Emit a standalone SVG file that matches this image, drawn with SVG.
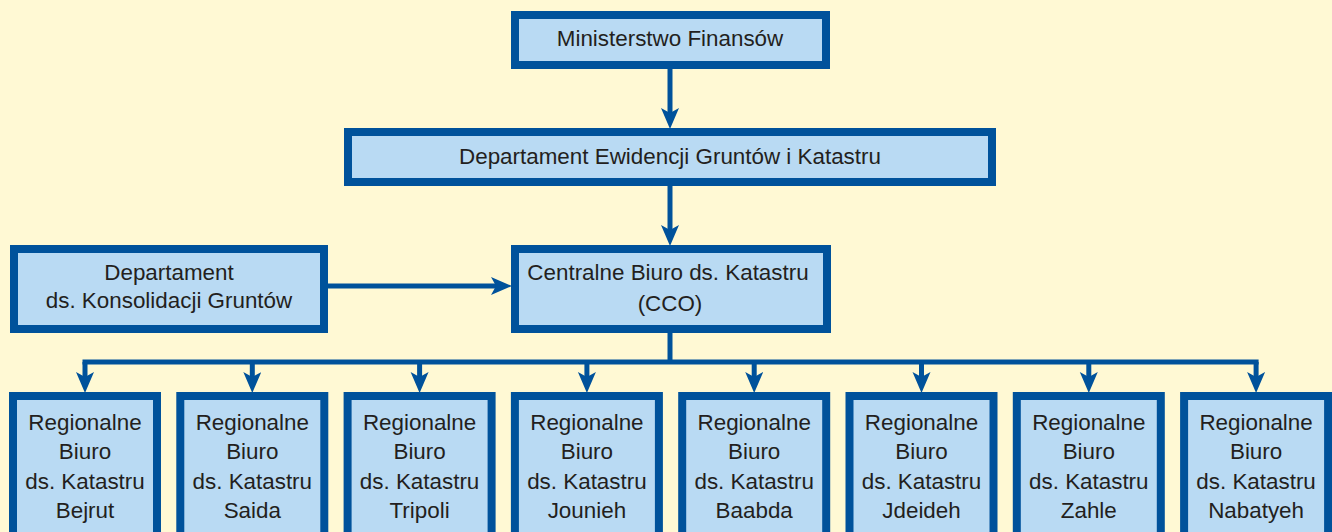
<svg xmlns="http://www.w3.org/2000/svg" width="1332" height="532" viewBox="0 0 1332 532">
<defs>
<style>
.box{fill:#b9daf3;stroke:#00529b;stroke-width:8}
.t{font-family:"Liberation Sans",Arial,sans-serif;font-size:22.4px;fill:#231f20;text-anchor:middle}
.c{fill:none;stroke:#00529b;stroke-width:5}
</style>
<marker id="ah" markerUnits="userSpaceOnUse" markerWidth="22" markerHeight="20" viewBox="0 0 22 20" refX="8" refY="9" orient="auto">
<path d="M0,0 L21,9 L0,18 L5,9 Z" fill="#00529b"/>
</marker>
</defs>
<rect width="1332" height="532" fill="#fff9d4"/>
<g id="connectors">
<path class="c" d="M670,69 V116" marker-end="url(#ah)"/>
<path class="c" d="M670,186 V233" marker-end="url(#ah)"/>
<path class="c" d="M328,286 H499" marker-end="url(#ah)"/>
<path class="c" d="M670,333 V362"/>
<path class="c" d="M82.5,362 H1258.6"/>
<path class="c" d="M85,362 V380" marker-end="url(#ah)"/>
<path class="c" d="M252.3,362 V380" marker-end="url(#ah)"/>
<path class="c" d="M419.6,362 V380" marker-end="url(#ah)"/>
<path class="c" d="M586.9,362 V380" marker-end="url(#ah)"/>
<path class="c" d="M754.2,362 V380" marker-end="url(#ah)"/>
<path class="c" d="M921.5,362 V380" marker-end="url(#ah)"/>
<path class="c" d="M1088.8,362 V380" marker-end="url(#ah)"/>
<path class="c" d="M1256.1,362 V380" marker-end="url(#ah)"/>
</g>
<g id="ministerstwo">
<rect class="box" x="515" y="15" width="311" height="50"/>
<text class="t" x="670" y="46">Ministerstwo Finansów</text>
</g>
<g id="departament-ewidencji">
<rect class="box" x="348" y="132" width="644" height="50"/>
<text class="t" x="670" y="164">Departament Ewidencji Gruntów i Katastru</text>
</g>
<g id="departament-konsolidacji">
<rect class="box" x="14" y="249" width="310" height="80"/>
<text class="t" x="169" y="280">Departament</text>
<text class="t" x="169" y="308">ds. Konsolidacji Gruntów</text>
</g>
<g id="cco">
<rect class="box" x="515" y="249" width="312" height="80"/>
<text class="t" x="668" y="280">Centralne Biuro ds. Katastru</text>
<text class="t" x="670" y="311">(CCO)</text>
</g>
<g id="rb-bejrut">
<rect class="box" x="13" y="396" width="144" height="160"/>
<text class="t" x="85" y="430">Regionalne</text><text class="t" x="85" y="459">Biuro</text><text class="t" x="85" y="489">ds. Katastru</text><text class="t" x="85" y="518">Bejrut</text>
</g>
<g id="rb-saida">
<rect class="box" x="180.3" y="396" width="144" height="160"/>
<text class="t" x="252.3" y="430">Regionalne</text><text class="t" x="252.3" y="459">Biuro</text><text class="t" x="252.3" y="489">ds. Katastru</text><text class="t" x="252.3" y="518">Saida</text>
</g>
<g id="rb-tripoli">
<rect class="box" x="347.6" y="396" width="144" height="160"/>
<text class="t" x="419.6" y="430">Regionalne</text><text class="t" x="419.6" y="459">Biuro</text><text class="t" x="419.6" y="489">ds. Katastru</text><text class="t" x="419.6" y="518">Tripoli</text>
</g>
<g id="rb-jounieh">
<rect class="box" x="514.9" y="396" width="144" height="160"/>
<text class="t" x="586.9" y="430">Regionalne</text><text class="t" x="586.9" y="459">Biuro</text><text class="t" x="586.9" y="489">ds. Katastru</text><text class="t" x="586.9" y="518">Jounieh</text>
</g>
<g id="rb-baabda">
<rect class="box" x="682.2" y="396" width="144" height="160"/>
<text class="t" x="754.2" y="430">Regionalne</text><text class="t" x="754.2" y="459">Biuro</text><text class="t" x="754.2" y="489">ds. Katastru</text><text class="t" x="754.2" y="518">Baabda</text>
</g>
<g id="rb-jdeideh">
<rect class="box" x="849.5" y="396" width="144" height="160"/>
<text class="t" x="921.5" y="430">Regionalne</text><text class="t" x="921.5" y="459">Biuro</text><text class="t" x="921.5" y="489">ds. Katastru</text><text class="t" x="921.5" y="518">Jdeideh</text>
</g>
<g id="rb-zahle">
<rect class="box" x="1016.8" y="396" width="144" height="160"/>
<text class="t" x="1088.8" y="430">Regionalne</text><text class="t" x="1088.8" y="459">Biuro</text><text class="t" x="1088.8" y="489">ds. Katastru</text><text class="t" x="1088.8" y="518">Zahle</text>
</g>
<g id="rb-nabatyeh">
<rect class="box" x="1184.1" y="396" width="144" height="160"/>
<text class="t" x="1256.1" y="430">Regionalne</text><text class="t" x="1256.1" y="459">Biuro</text><text class="t" x="1256.1" y="489">ds. Katastru</text><text class="t" x="1256.1" y="518">Nabatyeh</text>
</g>
</svg>
